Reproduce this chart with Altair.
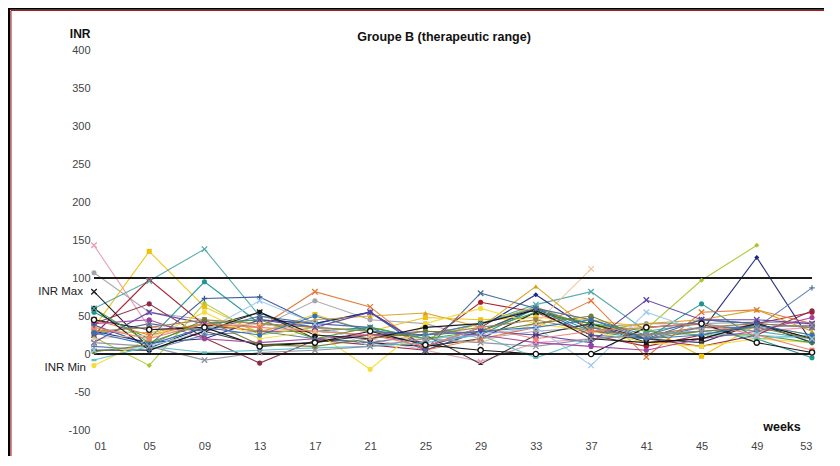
import altair as alt
import pandas as pd

weeks = [1, 5, 9, 13, 17, 21, 25, 29, 33, 37, 41, 45, 49, 53]
y_ticks = [-100, -50, 0, 50, 100, 150, 200, 250, 300, 350, 400]

# INR values per patient (None = no measurement)
p01 = [143, 35, 30, 40, 35, 20, 5, -10, 15, 20, 25, 35, 30, 35]
p02 = [107, 55, 45, 35, 70, 45, 40, 20, 30, 35, 40, 40, 42, 40]
p03 = [35, 135, 62, 28, 52, 30, 48, 45, 48, 45, 35, -3, 38, 25]
p04 = [60, 96, 138, 50, 35, 30, 25, 40, 65, 82, 30, 40, 30, 20]
p05 = [25, 98, 38, 30, 30, 25, 15, 68, 55, 25, 10, 25, 40, 55]
p06 = [40, 66, 21, -12, 18, 12, 5, 30, 60, 35, 20, 10, 25, 57]
p07 = [55, 20, 95, 40, 30, 35, 20, 25, 60, 30, 20, 66, 20, -5]
p08 = [82, 8, 35, 55, 20, 15, 10, 20, 55, 40, 15, 20, 40, 20]
p09 = [38, 12, 73, 75, 40, 55, 5, 30, 60, 25, 20, 45, 40, 15]
p10 = [22, -15, 67, 25, 35, 30, 20, 40, 62, 35, 33, 97, 143, None]
p11 = [30, 15, 20, 45, 40, 55, 10, 35, 78, 30, 25, 30, 127, 15]
p12 = [10, 5, 25, 30, 20, 15, 25, 40, 60, 35, 20, 35, 35, 87]
p13 = [20, 25, 35, 40, 30, 25, 20, 15, 40, 112, None, None, None, None]
p14 = [45, 25, 40, 35, 82, 62, 5, 20, 35, 70, -4, 55, 58, 40]
p15 = [30, 28, 40, 30, 45, 50, 54, 35, 89, 30, 40, 45, 58, 30]
p16 = [25, 40, 30, 50, 40, 35, 5, 80, 60, 45, 25, 45, 40, 35]
p17 = [15, 55, 40, 45, 35, 55, 10, 30, 25, 15, 71, 45, 45, 40]
p18 = [5, 10, 30, 70, 40, 10, 20, 25, 35, -15, 55, 30, 25, 20]
p19 = [5, 5, 30, 12, 15, 25, 25, -13, 25, 40, 20, 15, 40, 15]
p20 = [-15, 20, 55, 20, 30, -20, 40, 60, 40, 30, 15, 10, 20, 15]
p21 = [45, 32, 35, 10, 15, 30, 12, 5, 0, 0, 35, 40, 15, 2]
p22 = [60, 15, 40, 45, 20, 35, 20, 30, 55, 40, 30, 25, 25, 15]
p23 = [-8, 10, 2, 5, 8, 10, 15, 25, -5, 20, 25, 30, 20, 25]
p24 = [15, 10, -8, 2, 5, 10, 20, 15, 10, 20, 25, 30, 35, 38]
p25 = [40, 45, 20, 15, 20, 25, 30, 25, 15, 10, 5, 20, 30, 48]
p26 = [30, 35, 45, 40, 35, 30, 25, 35, 45, 30, 25, 35, 40, 35]
p27 = [60, 5, 30, 55, 25, 20, 35, 40, 58, 20, 15, 20, 40, 20]
p28 = [35, 20, 40, 35, 30, 25, 10, 35, 20, 30, 35, 40, 25, 5]
p29 = [3, 12, 45, 12, 10, 20, 30, 28, 40, 50, 20, 30, 35, 20]
p30 = [28, 12, 35, 25, 50, 30, 25, 30, 35, 45, 20, 25, 38, 25]

patients = [p01, p02, p03, p04, p05, p06, p07, p08, p09, p10,
            p11, p12, p13, p14, p15, p16, p17, p18, p19, p20,
            p21, p22, p23, p24, p25, p26, p27, p28, p29, p30]

series_colors = ["#e89ab4", "#a4a4ac", "#f0c010", "#52a8a8", "#a81828",
                 "#8c2a44", "#1e9690", "#1c1c1c", "#3a5a98", "#a8c830",
                 "#1e2880", "#5878a8", "#f2c496", "#e07838", "#d8a020",
                 "#4a6898", "#6040a8", "#9cc8f0", "#2e2e2e", "#f6dc38",
                 "#111111", "#40a040", "#60c0c8", "#9090a0", "#a040a0",
                 "#a08050", "#101010", "#f08070", "#708030", "#3070c0"]
series_markers = ["x", "dot", "square", "x", "dot",
                  "dot", "dot", "x", "plus", "diamond",
                  "diamond", "plus", "x", "x", "triangle",
                  "x", "x", "x", "dash", "dot",
                  "ring", "dot", "dash", "x", "dot",
                  "square", "dot", "square", "dot", "dot"]

marker_names = ["dot", "square", "diamond", "triangle", "dash", "x", "plus"]
marker_paths = ["circle", "square", "diamond", "triangle-up",
                "M-1,-0.45L1,-0.45L1,0.45L-1,0.45Z",
                "M-1,-1L1,1M1,-1L-1,1", "M-1,0L1,0M0,-1L0,1"]

names = ["P%02d" % (i + 1) for i in range(len(patients))]
rows = []
for name, vals, mk in zip(names, patients, series_markers):
    for w, v in zip(weeks, vals):
        if v is not None:
            rows.append({"patient": name, "week": w, "inr": v, "marker": mk})
df = pd.DataFrame(rows)

FONT = "Liberation Sans"
W, H = 718, 380

xenc = alt.X("week:Q", scale=alt.Scale(domain=[1, 53], nice=False, zero=False),
             axis=alt.Axis(values=weeks, title=None, labelPadding=10, labelOverlap=False,
                           labelExpr="datum.value < 10 ? '0' + datum.value : '' + datum.value"))
yaxis = alt.Axis(values=y_ticks, labelPadding=4, labelOverlap=False,
                 labelExpr="'' + datum.value",
                 title="INR", titleAngle=0, titleAlign="right",
                 titleBaseline="middle", titleX=-4, titleY=-17,
                 titleFontWeight="bold", titleFontSize=12, titleColor="#111")
yscale = alt.Scale(domain=[-100, 400], nice=False, zero=False)
yenc = alt.Y("inr:Q", scale=yscale, axis=yaxis)
color = alt.Color("patient:N", scale=alt.Scale(domain=names, range=series_colors), legend=None)
shape = alt.Shape("marker:N", legend=None,
                  scale=alt.Scale(domain=marker_names, range=marker_paths))

refs = alt.Chart(pd.DataFrame({"inr": [100, 0]})).mark_rule(
    color="#1a1a1a", strokeWidth=2).encode(y=yenc)

lines = alt.Chart(df).mark_line(strokeWidth=1.1, opacity=0.95).encode(
    x=xenc, y=yenc, color=color, detail="patient:N", order="week:Q")

filled = alt.Chart(df).transform_filter(
    "indexof(['dot','square','diamond','triangle','dash'], datum.marker) >= 0"
).mark_point(filled=True, size=26, opacity=1).encode(
    x=xenc, y=yenc, color=color, shape=shape)

stroked = alt.Chart(df).transform_filter(
    "indexof(['x','plus'], datum.marker) >= 0"
).mark_point(filled=False, size=30, strokeWidth=1.3, opacity=1).encode(
    x=xenc, y=yenc, color=color, shape=shape)

rings = alt.Chart(df).transform_filter("datum.marker == 'ring'").mark_point(
    shape="circle", filled=True, fill="white", stroke="#111", strokeWidth=1.4,
    size=28, opacity=1).encode(x=xenc, y=yenc)

title = alt.Chart(pd.DataFrame({"t": ["Groupe B (therapeutic range)"]})).mark_text(
    font=FONT, fontSize=12.5, fontWeight="bold", color="#111", align="center",
    baseline="middle").encode(text="t:N", x=alt.value(350), y=alt.value(-13))

weeks_lbl = alt.Chart(pd.DataFrame({"t": ["weeks"]})).mark_text(
    font=FONT, fontSize=12.5, fontWeight="bold", color="#111", align="center",
    baseline="middle").encode(text="t:N", x=alt.value(688), y=alt.value(377))

range_lbl = alt.Chart(pd.DataFrame({"t": ["INR Max", "INR Min"], "inr": [82, -18],
                                    "dx": [-11, -8]})).mark_text(
    font=FONT, fontSize=11.5, color="#222", align="right", baseline="middle").encode(
    text="t:N", y=yenc, x=alt.X("dx:Q", scale=None))

border_l1 = alt.Chart(pd.DataFrame({"a": [0]})).mark_rule(color="#000", strokeWidth=2.5).encode(
    x=alt.value(-85), y=alt.value(-42), y2=alt.value(H + 28))
border_l2 = alt.Chart(pd.DataFrame({"a": [0]})).mark_rule(color="#b01818", strokeWidth=1).encode(
    x=alt.value(-83), y=alt.value(-39), y2=alt.value(H + 28))
border_t1 = alt.Chart(pd.DataFrame({"a": [0]})).mark_rule(color="#000", strokeWidth=2.5).encode(
    y=alt.value(-41.5), x=alt.value(-86), x2=alt.value(W + 12))
border_t2 = alt.Chart(pd.DataFrame({"a": [0]})).mark_rule(color="#b01818", strokeWidth=1).encode(
    y=alt.value(-39.5), x=alt.value(-83), x2=alt.value(W + 12))

chart = alt.layer(
    lines, refs, filled, stroked, rings, title, weeks_lbl, range_lbl,
    border_l1, border_l2, border_t1, border_t2
).properties(
    width=W, height=H, autosize="none",
    padding={"left": 86, "top": 42, "right": 12, "bottom": 26},
    background="white"
).configure_view(stroke=None).configure_axis(
    domain=False, ticks=False, grid=False, labelFont=FONT, labelFontSize=11,
    labelColor="#444", titleFont=FONT
)

chart.save("out.html", embed_options={"renderer": "svg", "actions": False})
